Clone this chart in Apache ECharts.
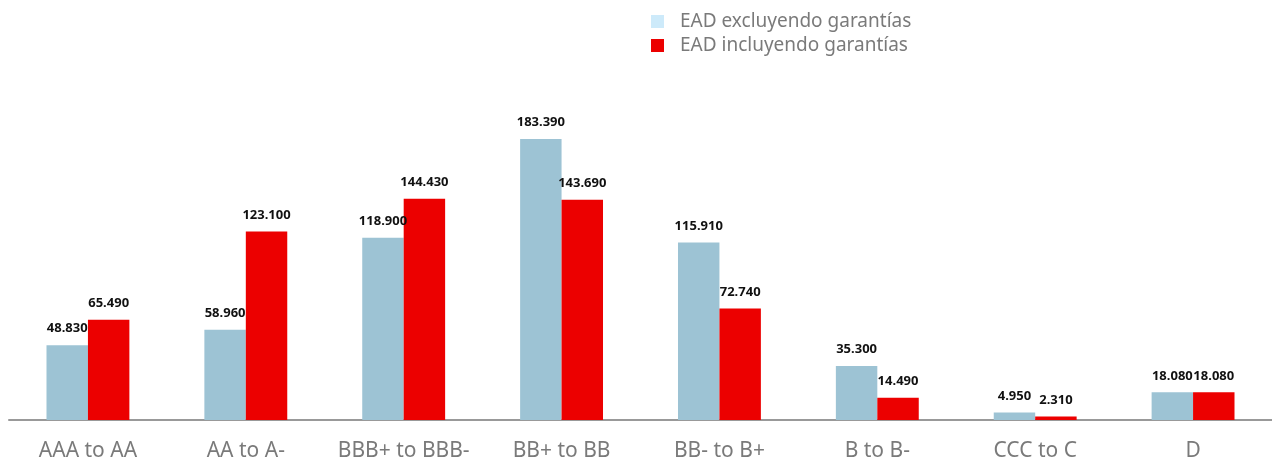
<!DOCTYPE html>
<html><head><meta charset="utf-8">
<script src="https://cdn.jsdelivr.net/npm/echarts@6/dist/echarts.min.js"></script>
<style>html,body{margin:0;padding:0;background:#fff}#c{width:1272px;height:463px}</style>
</head><body><div id="c"></div>
<script>
const categories = ['AAA to AA','AA to A-','BBB+ to BBB-','BB+ to BB','BB- to B+','B to B-','CCC to C','D'];
const excluyendo = [48830,58960,118900,183390,115910,35300,4950,18080];
const incluyendo = [65490,123100,144430,143690,72740,14490,2310,18080];
const seriesNames = ['EAD excluyendo garantías','EAD incluyendo garantías'];

function fmt(v){ return String(v).replace(/\B(?=(\d{3})+(?!\d))/g,'.'); }
const chart = echarts.init(document.getElementById('c'));
const lbl = {show:true, position:'top', distance:10, color:'#111', fontWeight:'bold', fontSize:13, fontFamily:'Noto Sans', formatter:p=>fmt(p.value)};
chart.setOption({
  animation:false,
  textStyle:{fontFamily:'Noto Sans'},
  legend:{orient:'vertical', left:646, top:7, itemWidth:13, itemHeight:13, itemGap:5, icon:'rect',
    textStyle:{color:'#7a7a7a', fontSize:19, fontFamily:'Noto Sans', padding:[0,0,0,11]},
    data:[{name:seriesNames[0], itemStyle:{color:'#cdeafa'}},{name:seriesNames[1], itemStyle:{color:'#ec0000'}}]},
  grid:{left:9, right:0, top:37, bottom:43},
  xAxis:{type:'category', data:categories,
    axisLine:{lineStyle:{color:'#999', width:2}}, axisTick:{show:false},
    axisLabel:{color:'#7a7a7a', fontSize:21, margin:21, interval:0, fontFamily:'Noto Sans'}},
  yAxis:{type:'value', min:0, max:250000, show:false, splitLine:{show:false}},
  series:[
    {name:seriesNames[0], type:'bar', data:excluyendo, barGap:'0%', barCategoryGap:'47.5%', itemStyle:{color:'#9dc3d4'}, label:lbl},
    {name:seriesNames[1], type:'bar', data:incluyendo, itemStyle:{color:'#ec0000'}, label:lbl}
  ]
});
</script></body></html>
